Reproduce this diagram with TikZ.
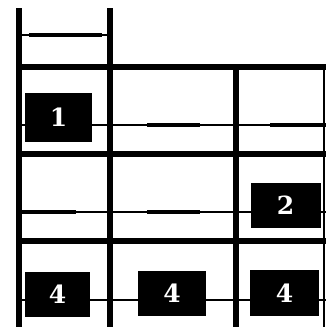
\documentclass[tikz,border=0pt]{standalone}
\usepackage{fontspec}
\newfontfamily\digitfont{DejaVu Serif}
\begin{document}
\begin{tikzpicture}[x=1pt,y=-1pt,
  grid/.style={line width=6.8pt},
  border/.style={line width=2.5pt},
  thinline/.style={line width=1.4pt},
  thickseg/.style={line width=4pt},
  numbox/.style={fill=black, inner sep=0pt, text=white,
    font=\digitfont\bfseries\fontsize{25}{25}\selectfont}]
\useasboundingbox (0,0) rectangle (326,327);
% grid lines
\coordinate (v1t) at (19,8);   \coordinate (v1b) at (19,327);
\coordinate (v2t) at (110,8);  \coordinate (v2b) at (110,327);
\coordinate (v3t) at (236,67); \coordinate (v3b) at (236,327);
\coordinate (rbt) at (324,64); \coordinate (rbb) at (324,327);
\coordinate (h1l) at (16,67);  \coordinate (h1r) at (326,67);
\coordinate (h2l) at (16,154); \coordinate (h2r) at (326,154);
\coordinate (h3l) at (16,241); \coordinate (h3r) at (326,241);
\draw[grid] (v1t) -- (v1b);
\draw[grid] (v2t) -- (v2b);
\draw[grid] (v3t) -- (v3b);
\draw[border] (rbt) -- (rbb);
\draw[grid] (h1l) -- (h1r);
\draw[grid] (h2l) -- (h2r);
\draw[grid] (h3l) -- (h3r);
% top cell connector
\coordinate (t0l) at (22,35);  \coordinate (t0r) at (107,35);
\coordinate (t1l) at (29,35);  \coordinate (t1r) at (102,35);
\draw[thinline] (t0l) -- (t0r);
\draw[thickseg] (t1l) -- (t1r);
% row 1 connector
\coordinate (r1l) at (16,125); \coordinate (r1r) at (326,125);
\coordinate (r1a) at (147,125); \coordinate (r1b) at (200,125);
\coordinate (r1c) at (270,125);
\draw[thinline] (r1l) -- (r1r);
\draw[thickseg] (r1a) -- (r1b);
\draw[thickseg] (r1c) -- (r1r);
% row 2 connector
\coordinate (r2l) at (16,212); \coordinate (r2r) at (326,212);
\coordinate (r2a) at (22,212); \coordinate (r2b) at (76,212);
\coordinate (r2c) at (147,212); \coordinate (r2d) at (200,212);
\draw[thinline] (r2l) -- (r2r);
\draw[thickseg] (r2a) -- (r2b);
\draw[thickseg] (r2c) -- (r2d);
% row 3 connector
\coordinate (r3l) at (16,300); \coordinate (r3r) at (326,300);
\draw[thinline] (r3l) -- (r3r);
% boxes
\node[numbox, minimum width=67pt, minimum height=49pt] (b1) at (58.5,117.5) {1};
\node[numbox, minimum width=70pt, minimum height=45pt] (b2) at (285.5,205.5) {2};
\node[numbox, minimum width=65pt, minimum height=45pt] (b4a) at (57.5,294.5) {4};
\node[numbox, minimum width=68pt, minimum height=45pt] (b4b) at (172,293.5) {4};
\node[numbox, minimum width=69pt, minimum height=46pt] (b4c) at (284.5,293) {4};
\end{tikzpicture}
\end{document}
